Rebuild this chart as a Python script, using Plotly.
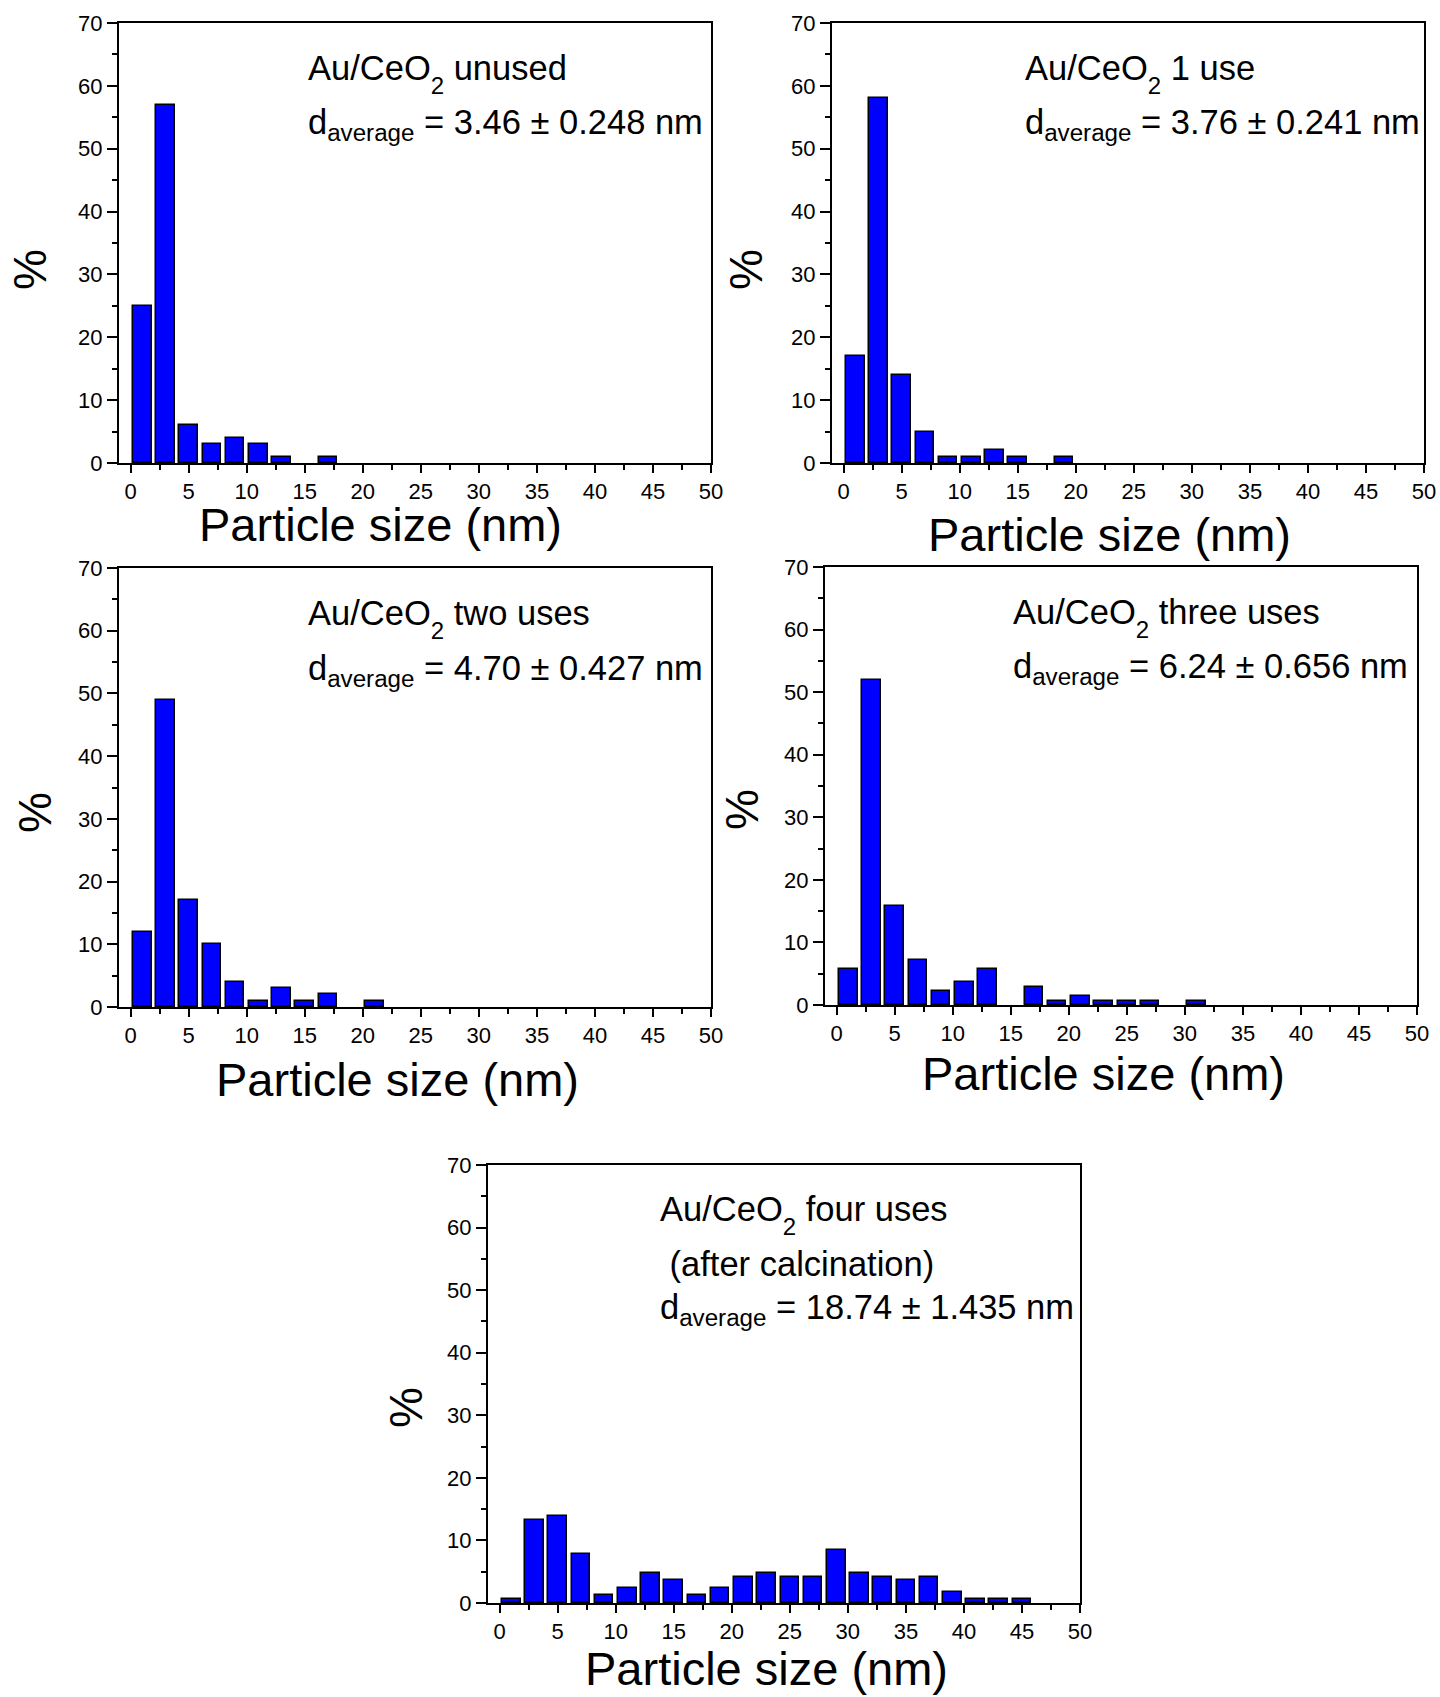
import plotly.graph_objects as go

# Particle size distributions (% of particles per 2 nm bin) for Au/CeO2 catalysts
sizes_unused = [1, 3, 5, 7, 9, 11, 13, 15, 17]
pct_unused = [25, 57, 6, 3, 4, 3, 1, 0, 1]

sizes_one_use = [1, 3, 5, 7, 9, 11, 13, 15, 17, 19]
pct_one_use = [17, 58, 14, 5, 1, 1, 2, 1, 0, 1]

sizes_two_uses = [1, 3, 5, 7, 9, 11, 13, 15, 17, 19, 21]
pct_two_uses = [12, 49, 17, 10, 4, 1, 3, 1, 2, 0, 1]

sizes_three_uses = [1, 3, 5, 7, 9, 11, 13, 15, 17, 19, 21, 23, 25, 27, 29, 31]
pct_three_uses = [5.8, 52.0, 15.8, 7.2, 2.2, 3.6, 5.8, 0, 2.9, 0.7, 1.4, 0.7, 0.7, 0.7, 0, 0.7]

sizes_four_uses = [1, 3, 5, 7, 9, 11, 13, 15, 17, 19, 21, 23, 25, 27, 29, 31,
                   33, 35, 37, 39, 41, 43, 45]
pct_four_uses = [0.6, 13.3, 13.9, 7.9, 1.2, 2.4, 4.8, 3.6, 1.2, 2.4, 4.2, 4.8,
                 4.2, 4.2, 8.5, 4.8, 4.2, 3.6, 4.2, 1.8, 0.6, 0.6, 0.6]

# subscript 2 of CeO2, dropped a little below the usual <sub> position
SUB2 = '<span style="font-size:24px;baseline-shift:-14px">2</span>'
sample_labels = ["Au/CeO" + SUB2 + " unused",
                 "Au/CeO" + SUB2 + " 1 use",
                 "Au/CeO" + SUB2 + " two uses",
                 "Au/CeO" + SUB2 + " three uses",
                 "Au/CeO" + SUB2 + " four uses"]
d_average_labels = ["d<sub>average</sub> = 3.46 ± 0.248 nm",
                    "d<sub>average</sub> = 3.76 ± 0.241 nm",
                    "d<sub>average</sub> = 4.70 ± 0.427 nm",
                    "d<sub>average</sub> = 6.24 ± 0.656 nm",
                    "d<sub>average</sub> = 18.74 ± 1.435 nm"]
x_title = "Particle size (nm)"
y_title = "%"

W, H = 1440, 1697
FONT = "Liberation Sans, Arial, sans-serif"


def px(x, y):
    return x / W, 1 - y / H


# panel frames in pixels: left, right, top, bottom
frames = [
    (119, 711, 23, 463),
    (832, 1424, 23, 463),
    (119, 711, 568, 1007),
    (825, 1417, 567, 1005),
    (488, 1080, 1165, 1603),
]

series = [
    (sizes_unused, pct_unused),
    (sizes_one_use, pct_one_use),
    (sizes_two_uses, pct_two_uses),
    (sizes_three_uses, pct_three_uses),
    (sizes_four_uses, pct_four_uses),
]

fig = go.Figure()
layout = dict(
    width=W, height=H, margin=dict(l=0, r=0, t=0, b=0, autoexpand=False),
    paper_bgcolor="white", plot_bgcolor="white", showlegend=False,
    font=dict(family=FONT, color="black"),
    bargap=0,
)

for i, ((sx, sy), (l, r, t, b)) in enumerate(zip(series, frames)):
    n = "" if i == 0 else str(i + 1)
    # empty bins are left undrawn
    bx = [c for c, v in zip(sx, sy) if v > 0]
    by = [v for v in sy if v > 0]
    fig.add_trace(go.Bar(
        x=bx, y=by, width=1.6,
        marker=dict(color="#0000FF", line=dict(color="black", width=1.5)),
        xaxis="x" + n, yaxis="y" + n,
    ))
    common = dict(
        showline=True, linewidth=2, linecolor="black", mirror=True,
        showgrid=False, zeroline=False, ticks="outside", tickwidth=2,
        tickcolor="black", tickfont=dict(size=22, family=FONT, color="black"),
        fixedrange=True, automargin=False,
    )
    layout["xaxis" + n] = dict(
        domain=[l / W, r / W], anchor="y" + n, range=[-1, 50],
        tickmode="linear", tick0=0, dtick=5, ticklen=8,
        minor=dict(ticks="outside", ticklen=5, tickwidth=2, tickcolor="black",
                   tick0=0, dtick=2.5, showgrid=False),
        **common,
    )
    layout["yaxis" + n] = dict(
        domain=[1 - b / H, 1 - t / H], anchor="x" + n, range=[0, 70],
        tickmode="linear", tick0=0, dtick=10, ticklen=10,
        minor=dict(ticks="outside", ticklen=5, tickwidth=2, tickcolor="black",
                   tick0=0, dtick=5, showgrid=False),
        **common,
    )

annotations = []


def add_text(x, y, text, size, xanchor="left", yanchor="middle", angle=0):
    ax, ay = px(x, y)
    annotations.append(dict(
        x=ax, y=ay, xref="paper", yref="paper", text=text, showarrow=False,
        xanchor=xanchor, yanchor=yanchor, textangle=angle,
        font=dict(size=size, family=FONT, color="black"),
    ))


# sample names and mean diameters
text_pos = [
    (306, 74, 306, 125),
    (1023, 74, 1023, 125),
    (306, 619, 306, 670),
    (1011, 618, 1011, 668),
]
for i, (x1, y1, x2, y2) in enumerate(text_pos):
    add_text(x1, y1, sample_labels[i], 34.5)
    add_text(x2, y2, d_average_labels[i], 34.5)
add_text(658, 1215, sample_labels[4], 34.5)
add_text(658, 1264, " (after calcination)", 34.5)
add_text(658, 1309, d_average_labels[4], 34.5)

# axis titles
x_title_pos = [(380, 524), (1109, 534), (397, 1079), (1103, 1073), (766, 1668)]
y_title_pos = [(30, 270), (746, 270), (35, 813), (742, 809), (406, 1408)]
for (x, y) in x_title_pos:
    add_text(x, y, x_title, 47, xanchor="center")
for (x, y) in y_title_pos:
    add_text(x, y, y_title, 46, xanchor="center", angle=-90)

layout["annotations"] = annotations
fig.update_layout(**layout)
fig.write_html("out.html")
